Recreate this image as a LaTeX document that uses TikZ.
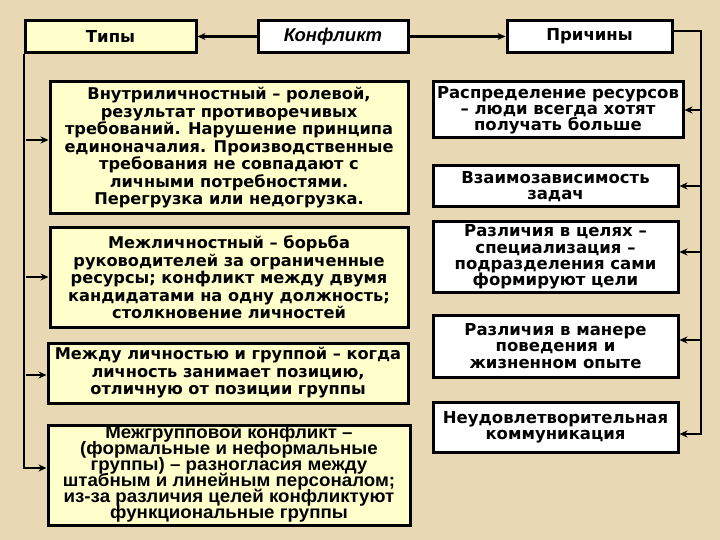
\documentclass[tikz,border=0pt]{standalone}
\usepackage{fontspec}
\setmainfont{DejaVu Sans}
\newfontfamily\narrowfont[FakeStretch=1.04]{Liberation Sans}
\newfontfamily\topfont{Liberation Sans}
\usetikzlibrary{arrows.meta}
\definecolor{bg}{RGB}{232,216,180}
\definecolor{lyel}{RGB}{255,255,204}
\newcommand\tightlines{\lineskiplimit=-30pt\relax}
\begin{document}
\begin{tikzpicture}[x=1pt,y=-1pt,
  box/.style={draw=black,line width=3pt,inner sep=0pt,align=center},
  lbox/.style={box,fill=lyel,font=\bfseries\fontsize{16.2}{17.5}\selectfont\tightlines},
  rbox/.style={box,fill=white,font=\bfseries\fontsize{16.5}{16.2}\selectfont\tightlines},
  topbox/.style={draw=black,line width=3pt,inner sep=0pt,align=center,minimum height=32pt,font=\bfseries\fontsize{16.5}{18}\selectfont},
  conn/.style={line width=2.6pt,-{Stealth[length=8pt,width=7pt]}},
  wire/.style={line width=2.6pt}]
\fill[bg] (0,0) rectangle (720,540);
\useasboundingbox (0,0) rectangle (720,540);

% top row
\node[topbox,fill=lyel,minimum width=171pt] (tipy) at (110.5,36.5) {Типы};
\node[topbox,fill=white,minimum width=150pt,font=\topfont\bfseries\itshape\fontsize{18.5}{20}\selectfont] (konf) at (333,36.5) {Конфликт};
\node[topbox,fill=white,minimum width=165pt] (prich) at (589.5,36.5) {Причины};

\draw[conn] (konf) -- (tipy);
\draw[conn] (konf) -- (prich);

% left column
\node[lbox,minimum width=358pt,minimum height=132pt] (L1) at (229,148) {Внутриличностный – ролевой,\\результат противоречивых\\требований. Нарушение принципа\\единоначалия. Производственные\\требования не совпадают с\\личными потребностями.\\Перегрузка или недогрузка.};
\node[lbox,minimum width=358pt,minimum height=99pt] (L2) at (229,277.5) {Межличностный – борьба\\руководителей за ограниченные\\ресурсы; конфликт между двумя\\кандидатами на одну должность;\\столкновение личностей};
\node[lbox,minimum width=360pt,minimum height=60pt] (L3) at (228,373) {Между личностью и группой – когда\\личность занимает позицию,\\отличную от позиции группы};
\node[lbox,minimum width=362pt,minimum height=100pt] (L4) at (229,475) {};
\node[inner sep=0pt,align=center,font=\narrowfont\bfseries\fontsize{18}{16}\selectfont\tightlines] (L4t) at (229,474) {Межгрупповой конфликт –\\(формальные и неформальные\\группы) – разногласия между\\штабным и линейным персоналом;\\из-за различия целей конфликтуют\\функциональные группы};

\coordinate (la1) at (25.5,140);
\coordinate (la2) at (25.5,277);
\coordinate (la3) at (25.5,375);
\coordinate (la4) at (25.5,468);
\draw[conn] (tipy.south west) ++(0.5,0) |- (la4 -| L4.west);
\draw[conn] (la1) -- (la1 -| L1.west);
\draw[conn] (la2) -- (la2 -| L2.west);
\draw[conn] (la3) -- (la3 -| L3.west);

% right column
\node[rbox,minimum width=250pt,minimum height=56pt] (R1) at (558,110) {Распределение ресурсов\\– люди всегда хотят\\получать больше};
\node[rbox,minimum width=245pt,minimum height=41pt] (R2) at (555.5,186.5) {Взаимозависимость\\задач};
\node[rbox,minimum width=245pt,minimum height=70pt] (R3) at (555.5,257) {Различия в целях –\\специализация –\\подразделения сами\\формируют цели};
\node[rbox,minimum width=245pt,minimum height=62pt] (R4) at (555.5,346) {Различия в манере\\поведения и\\жизненном опыте};
\node[rbox,minimum width=245pt,minimum height=50pt] (R5) at (555.5,427) {Неудовлетворительная\\коммуникация};

\coordinate (rc) at (701,31);
\coordinate (ra1) at (701,110);
\coordinate (ra2) at (701,186);
\coordinate (ra3) at (701,252);
\coordinate (ra4) at (701,340);
\coordinate (ra5) at (701,434);
\draw[conn] (rc -| prich.east) -- (rc) |- (ra5 -| R5.east);
\draw[conn] (ra1) -- (ra1 -| R1.east);
\draw[conn] (ra2) -- (ra2 -| R2.east);
\draw[conn] (ra3) -- (ra3 -| R3.east);
\draw[conn] (ra4) -- (ra4 -| R4.east);
\end{tikzpicture}
\end{document}
